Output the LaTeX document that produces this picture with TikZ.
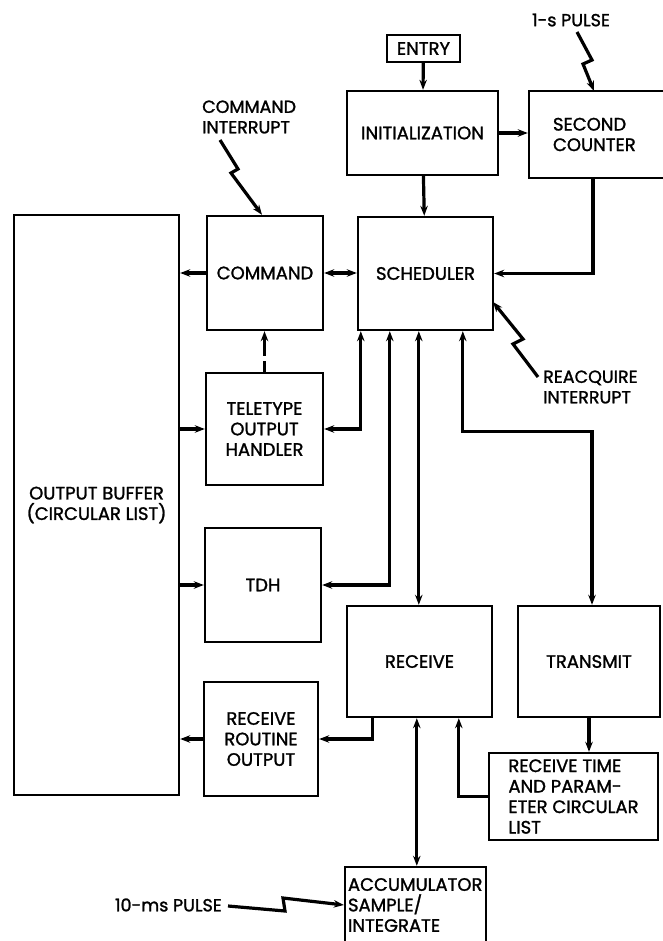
\documentclass[tikz,border=0pt]{standalone}
\usepackage{fontspec}
\setmainfont{Poppins}
\newfontfamily\diafont{Poppins}[FakeBold=1.4]
\usetikzlibrary{arrows.meta,calc}
\begin{document}
\begin{tikzpicture}[x=1pt,y=-1pt,
  box/.style={draw, line width=2.4pt, inner sep=0pt, align=center, font=\diafont\fontsize{18}{20.5}\selectfont},
  lbl/.style={inner sep=0pt, align=left, font=\diafont\fontsize{17.5}{20.5}\selectfont},
  ln/.style={line width=3.2pt},
  tip/.style={-{Stealth[length=10pt,width=7.5pt]}},
  both/.style={{Stealth[length=10pt,width=7.5pt]}-{Stealth[length=10pt,width=7.5pt]}},
  bolt/.style={line width=3.2pt, line join=miter, -{Stealth[length=10pt,width=7.5pt]}}]
\useasboundingbox (0,0) rectangle (662,941);

% boxes
\node[box, minimum width=73pt, minimum height=27pt] (entry) at (423.5,48.5) {ENTRY};
\node[box, minimum width=151pt, minimum height=84pt] (init) at (422.5,133) {INITIALIZATION};
\node[box, minimum width=161pt, minimum height=87pt, text width=113pt, inner xsep=24pt, align=left] (sc) at (609.5,134.5) {SECOND\\COUNTER};
\node[box, minimum width=116pt, minimum height=114pt] (command) at (265,273) {COMMAND};
\node[box, minimum width=135pt, minimum height=113pt] (sched) at (425.5,273.5) {SCHEDULER};
\node[box, minimum width=165pt, minimum height=580pt] (buffer) at (96.5,505) {OUTPUT BUFFER\\(CIRCULAR LIST)};
\node[box, minimum width=117pt, minimum height=112pt] (teletype) at (264.5,429) {TELETYPE\\OUTPUT\\HANDLER};
\node[box, minimum width=116pt, minimum height=114pt] (tdh) at (263,585) {TDH};
\node[box, minimum width=114pt, minimum height=114pt] (rro) at (261,739) {RECEIVE\\ROUTINE\\OUTPUT};
\node[box, minimum width=145pt, minimum height=111pt] (receive) at (419.5,661.5) {RECEIVE};
\node[box, minimum width=142pt, minimum height=111pt] (transmit) at (589,661.5) {TRANSMIT};
\node[box, minimum width=169pt, minimum height=87pt, align=left] (rtpcl) at (573.5,796.5) {RECEIVE TIME\\AND PARAM-\\ETER CIRCULAR\\LIST};
\node[box, minimum width=141pt, minimum height=76pt, text width=135pt, inner xsep=3pt, align=left] (acc) at (415.5,905) {ACCUMULATOR\\SAMPLE/\\INTEGRATE};

% labels
\node[lbl, anchor=west] (cmdint) at (202,117) {COMMAND\\INTERRUPT};
\node[lbl] (pulse1) at (571,20) {1-s PULSE};
\node[lbl, anchor=west] (reacq) at (543,387) {REACQUIRE\\INTERRUPT};
\node[lbl, anchor=east] (pulse10) at (222,905) {10-ms PULSE};

% connectors
\draw[ln, tip] (entry) -- (init);
\draw[ln, tip] (init.east) -- (init.east -| sc.west);
\draw[ln, tip] (init) -- (sched);
\draw[ln, tip] ([xshift=-16.5pt]sc.south) |- (sched.east);
\draw[ln, tip] (command.west) -- (command.west -| buffer.east);
\draw[ln, both] (command.east) -- (command.east -| sched.west);
\draw[ln, tip, dash pattern=on 11pt off 5pt on 60pt off 0pt] (teletype.north) -- (teletype.north |- command.south);
\draw[ln, tip] (teletype.west -| buffer.east) -- (teletype.west);
\draw[ln, tip] (tdh.west -| buffer.east) -- (tdh.west);
\draw[ln, tip] (rro.west) -- (rro.west -| buffer.east);

\coordinate (s1) at ($(sched.south west)+(4,0)$);
\coordinate (s2) at ($(sched.south west)+(33,0)$);
\coordinate (s3) at ($(sched.south west)+(62,0)$);
\coordinate (s4) at ($(sched.south west)+(106,0)$);
\draw[ln, both] (s1) |- (teletype.east);
\draw[ln, both] (s2) |- (tdh.east);
\draw[ln, both] (s3) -- (s3 |- receive.north);
\draw[ln, both] (s4) -- ++(0,100) -| ([xshift=3pt]transmit.north);

\coordinate (r1) at ($(receive.south west)+(27,0)$);
\coordinate (r2) at ($(receive.south west)+(71,0)$);
\coordinate (r3) at ($(receive.south west)+(113,0)$);
\draw[ln, tip] (r1) |- (rro.east);
\draw[ln, both] (r2) -- (r2 |- acc.north);
\draw[ln, tip] (rtpcl.west) -| (r3);
\draw[ln, tip] (transmit.south) -- (transmit.south |- rtpcl.north);

% interrupt / pulse bolts
\coordinate (b1) at (220,140);
\draw[bolt] (b1) -- (238,169) -- (231,173) -- ([xshift=-3pt]command.north);
\coordinate (b2) at (577,32);
\draw[bolt] (b2) -- (592,60) -- (583,64) -- (594,91);
\coordinate (b3) at (538,377);
\draw[bolt] (b3) -- (513,344) -- (523,339) -- (493,302);
\coordinate (b4) at (228,906);
\draw[bolt] (b4) -- (285,911) -- (283,898) -- (acc.west);
\end{tikzpicture}
\end{document}
